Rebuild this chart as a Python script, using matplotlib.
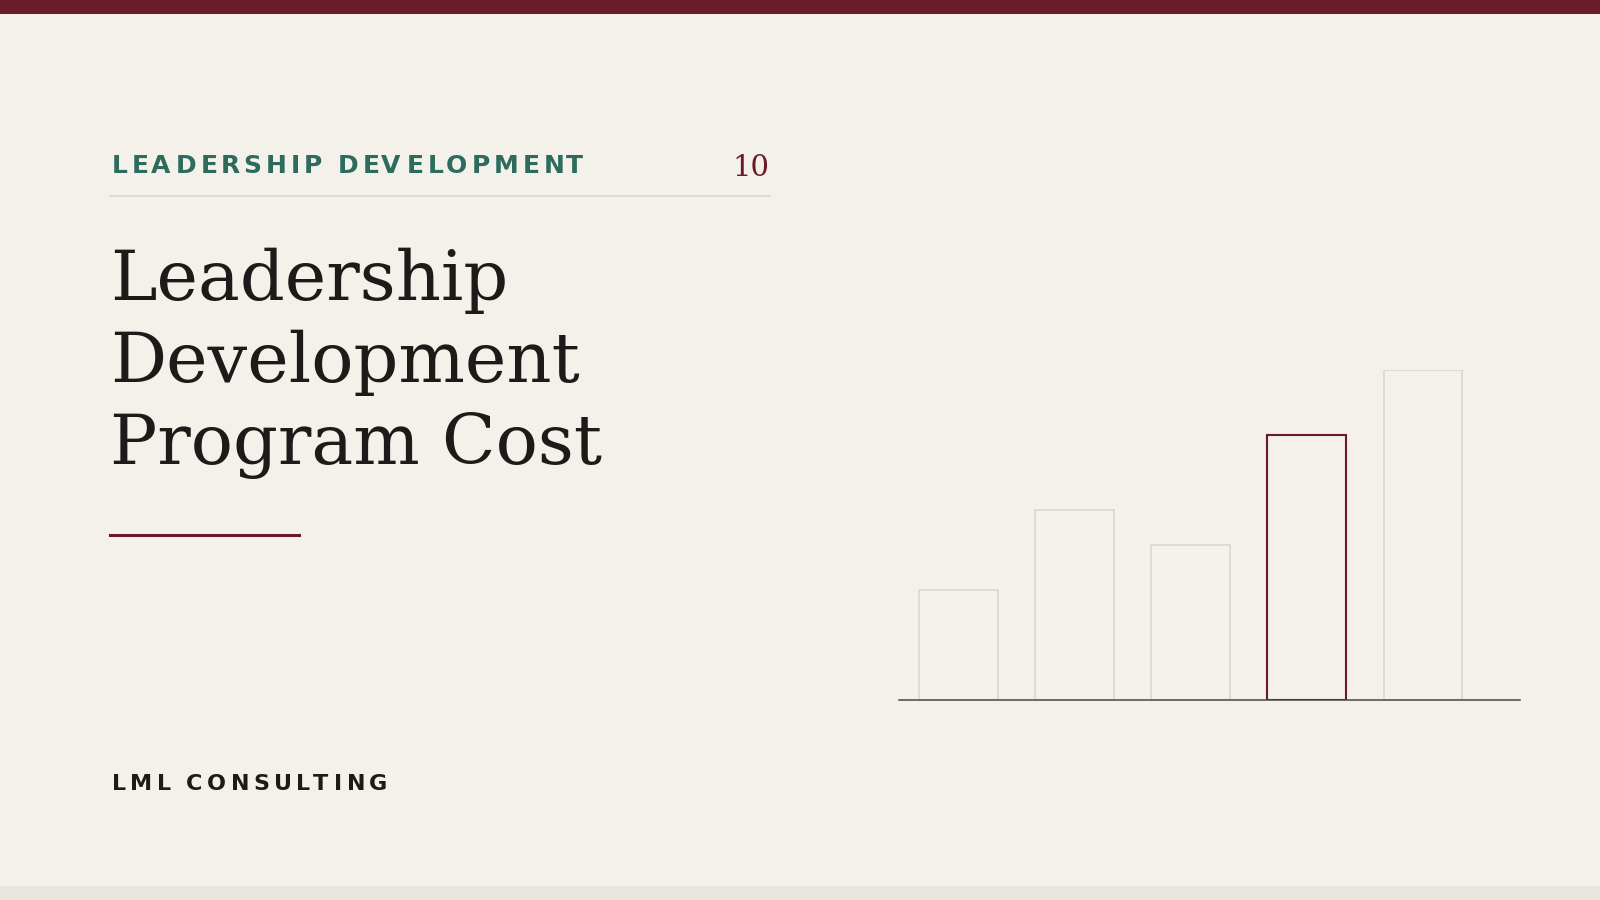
import matplotlib
matplotlib.use("Agg")
import matplotlib.pyplot as plt
from matplotlib.font_manager import FontProperties, findfont, get_font

W, H = 1600, 900

# slide text
kicker = "LEADERSHIP DEVELOPMENT"
page_no = "10"
title_lines = ["Leadership", "Development", "Program Cost"]
footer = "LML CONSULTING"

# bar chart (cost index)
bar_values = [110, 190, 155, 265, 330]
highlight_idx = 3

BG = "#f4f1ea"
WINE = "#6b1a2a"
TEAL = "#2e6b5f"
INK = "#1c1b19"
PALE = "#d9d5cc"


def tracked_text(fig, x_px, y_px, s, size, tracking_em, color):
    # letter-spaced caps, one glyph at a time
    fp = FontProperties(family="DejaVu Sans", weight="bold", size=size)
    font = get_font(findfont(fp))
    font.set_size(size, fig.dpi)
    x = x_px
    for ch in s:
        glyph = font.load_char(ord(ch))
        if ch != " ":
            fig.text((x + glyph.horiBearingX / 64) / W, 1 - y_px / H, ch,
                     fontproperties=fp, color=color, ha="left", va="baseline")
        x += glyph.linearHoriAdvance / 65536 + tracking_em * size * fig.dpi / 72


fig = plt.figure(figsize=(16, 9), dpi=100, facecolor=BG)

# top band and bottom strip
fig.add_artist(plt.Rectangle((0, 1 - 14 / H), 1, 14 / H, transform=fig.transFigure,
                             color=WINE, lw=0))
fig.add_artist(plt.Rectangle((0, 0), 1, 14 / H, transform=fig.transFigure,
                             color="#e9e5de", lw=0))

# header row
tracked_text(fig, 110, 173, kicker, 18, 0.15, TEAL)
fig.text(769.5 / W, 1 - 176.5 / H, page_no, family="DejaVu Serif", size=21,
         color=WINE, ha="right", va="baseline")
fig.add_artist(plt.Line2D([110 / W, 769.5 / W], [1 - 196 / H] * 2,
                          transform=fig.transFigure, color="#e0dcd4", lw=1.5))

# title
for i, line in enumerate(title_lines):
    fig.text(110 / W, 1 - (300 + 82 * i) / H, line, family="DejaVu Serif",
             size=50.5, color=INK, ha="left", va="baseline")

fig.add_artist(plt.Line2D([110 / W, 299 / W], [1 - 535 / H] * 2,
                          transform=fig.transFigure, color=WINE, lw=2.2))

tracked_text(fig, 110, 790.5, footer, 16, 0.19, INK)

# chart
ax = fig.add_axes([899 / W, 200 / H, (1520 - 899) / W, (700 - 370.4) / H])
ax.set_facecolor("none")
x = list(range(len(bar_values)))
edges = [WINE if i == highlight_idx else PALE for i in x]
widths = [1.5 if i == highlight_idx else 1.1 for i in x]
ax.bar(x, bar_values, width=0.68, facecolor="none", edgecolor=edges, linewidth=widths)
ax.set_xlim(-0.515, 4.836)
ax.set_ylim(0, max(bar_values))
for side in ["top", "right", "left"]:
    ax.spines[side].set_visible(False)
ax.spines["bottom"].set_color("#4a4743")
ax.spines["bottom"].set_linewidth(1.1)
ax.set_xticks([])
ax.set_yticks([])

fig.savefig("out.png", dpi=100, facecolor=BG)
